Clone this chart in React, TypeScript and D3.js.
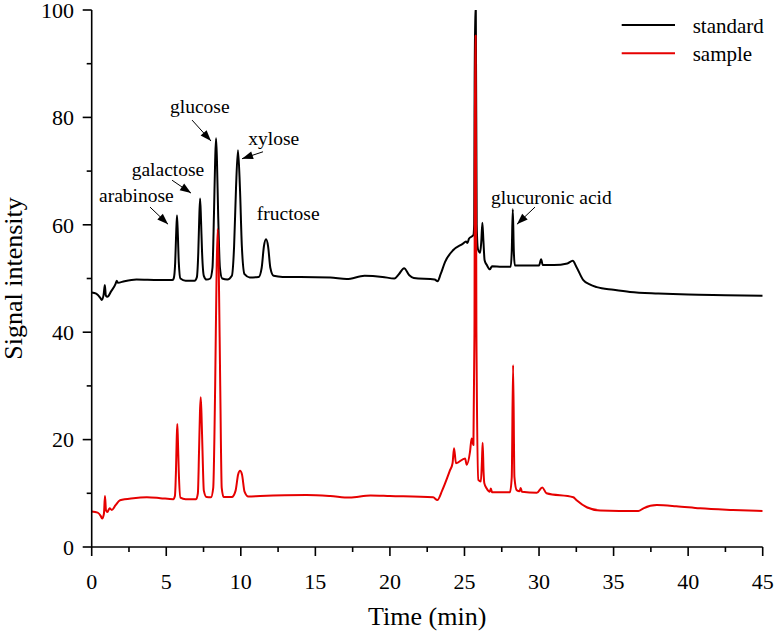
import React from "react";
import * as d3 from "d3";

// ---- data ----
const xTicks = [0, 5, 10, 15, 20, 25, 30, 35, 40, 45];
const yTicks = [0, 20, 40, 60, 80, 100];

const standardSeries: [number, number][] = [
  [0, 47.4], [0.3, 47.2], [0.6, 46.3], [0.67, 46.0], [0.8, 47.0], [0.88, 48.8], [0.95, 46.8], [1.05, 46.6],
  [1.3, 47.6], [1.6, 49.0], [1.68, 49.6], [1.75, 49.2], [2.2, 49.5], [3, 49.8], [4.5, 49.7], [5.4, 49.7],
  [5.5, 50.0], [5.6, 53], [5.66, 58], [5.72, 61.8], [5.78, 58], [5.84, 53], [5.95, 50.0], [6.3, 49.6], [6.9, 49.6],
  [7.05, 50.2], [7.15, 55], [7.21, 61], [7.27, 64.9], [7.33, 61], [7.4, 55], [7.52, 50.5], [7.7, 49.8], [7.95, 50.0],
  [8.1, 52], [8.2, 62], [8.28, 72], [8.34, 76.1], [8.4, 72], [8.48, 62], [8.6, 52], [8.75, 50.0], [9.1, 49.8], [9.4, 50.5],
  [9.55, 56], [9.68, 67], [9.81, 73.9], [9.94, 67], [10.07, 56], [10.25, 50.8], [10.6, 50.2], [11.2, 50.3],
  [11.4, 52], [11.55, 56], [11.69, 57.3], [11.83, 56], [11.98, 52], [12.2, 50.5], [12.8, 50.3], [14, 50.3],
  [16, 50.2], [17.1, 49.9], [18.3, 50.5], [19.5, 50.3], [20.3, 50.0], [20.6, 50.8], [20.95, 51.9], [21.3, 50.6],
  [21.6, 50.1], [23.0, 49.8], [23.2, 49.5], [23.4, 50.8], [23.7, 53.1], [24.25, 55.3], [24.9, 56.5], [25.1, 56.9],
  [25.2, 56.6], [25.3, 57.4], [25.6, 58.1], [25.65, 60], [25.7, 100], [25.76, 100], [25.82, 60], [25.9, 55.5],
  [26.05, 54.8], [26.13, 57], [26.2, 60.4], [26.27, 57], [26.35, 53.4], [26.5, 52.5], [26.7, 51.7], [26.85, 52.3],
  [27.5, 52.2], [28.1, 52.2], [28.17, 55], [28.24, 62.9], [28.31, 55], [28.38, 52.4], [29, 52.4], [30.0, 52.4],
  [30.14, 53.6], [30.25, 52.5], [31, 52.5], [31.9, 52.8], [32.26, 53.3], [32.5, 52.2], [32.97, 49.7], [33.4, 48.9],
  [33.87, 48.4], [35, 47.9], [36.1, 47.5], [38, 47.2], [40, 47.0], [42.5, 46.9], [45, 46.8],
];

const sampleSeries: [number, number][] = [
  [0, 6.6], [0.4, 6.4], [0.6, 5.8], [0.7, 5.3], [0.82, 6.2], [0.89, 9.5], [0.96, 6.8], [1.05, 6.5], [1.2, 7.2],
  [1.35, 6.9], [1.6, 7.8], [1.9, 8.7], [2.8, 9.1], [3.7, 9.25], [4.6, 9.1], [5.47, 8.9],
  [5.58, 9.5], [5.65, 14], [5.7, 20], [5.74, 22.9], [5.78, 20], [5.84, 14], [5.95, 9.2], [6.3, 8.9], [7.0, 8.9],
  [7.12, 10], [7.2, 18], [7.26, 25], [7.31, 27.9], [7.36, 25], [7.43, 18], [7.52, 10.5], [7.7, 9.3], [8.0, 9.25], [8.15, 11],
  [8.28, 30], [8.38, 52], [8.45, 59.2], [8.52, 52], [8.62, 30], [8.72, 11], [8.85, 9.3], [9.4, 9.3], [9.65, 10.5],
  [9.82, 13.5], [9.95, 14.2], [10.08, 13.5], [10.25, 10.3], [10.5, 9.4], [11.3, 9.5], [14.4, 9.7], [16, 9.5],
  [17.3, 9.2], [18.7, 9.6], [20, 9.5], [22.9, 9.25], [23.18, 8.75], [23.5, 10.5], [24.03, 14.3], [24.2, 15.6],
  [24.3, 18.4], [24.43, 15.6], [25.04, 16.5], [25.15, 15.3], [25.37, 17.7], [25.48, 20.2], [25.6, 19.0],
  [25.67, 40], [25.71, 95.2], [25.75, 95.2], [25.8, 40], [25.93, 12.5], [26.1, 12.2], [26.17, 16], [26.22, 19.4],
  [26.28, 14], [26.33, 11.9], [26.49, 10.9], [26.7, 10.3], [26.77, 10.9], [26.85, 10.2], [28.05, 10.2],
  [28.17, 13], [28.26, 33.9], [28.35, 13], [28.5, 10.6], [28.7, 10.4], [28.77, 11.0], [28.85, 10.3],
  [29.85, 10.1], [30.22, 11.1], [30.5, 10.0], [32.3, 9.25], [32.5, 8.75], [33.2, 7.4], [34.1, 6.8],
  [36.66, 6.7], [37.0, 7.2], [37.9, 7.8], [39.2, 7.6], [40.8, 7.2], [43, 6.9], [45, 6.7],
];

const seriesNames = ["standard", "sample"];
const peakLabels = ["arabinose", "galactose", "glucose", "xylose", "fructose", "glucuronic acid"];

// layout of the annotations (data coordinates): text anchor + optional arrow
const labelLayout: { tx: number; ty: number; arrow?: [number, number, number, number] }[] = [
  { tx: 0.49, ty: 64.3, arrow: [3.91, 63.3, 5.12, 60.1] },
  { tx: 2.68, ty: 69.1, arrow: [5.39, 68.3, 6.66, 65.9] },
  { tx: 5.25, ty: 80.8, arrow: [6.73, 79.5, 8.0, 75.6] },
  { tx: 10.5, ty: 74.9, arrow: [11.49, 73.6, 10.08, 72.3] },
  { tx: 11.07, ty: 60.9 },
  { tx: 26.78, ty: 63.9, arrow: [29.73, 63.3, 28.52, 60.1] },
];

const FONT = '"Liberation Serif", "DejaVu Serif", serif';
const RED = "#e60000";

export default function App() {
  const W = 774, H = 632;
  const x = d3.scaleLinear().domain([0, 45]).range([91.7, 762.7]);
  const y = d3.scaleLinear().domain([0, 100]).range([547, 10]);
  const line = d3
    .line<[number, number]>()
    .x((d) => x(d[0]))
    .y((d) => y(d[1]))
    .curve(d3.curveMonotoneX);

  const xMinor = d3.range(0, 45.01, 2.5);
  const yMinor = d3.range(0, 100.01, 10);

  const arrowHead = (x1: number, y1: number, x2: number, y2: number) => {
    const ang = Math.atan2(y2 - y1, x2 - x1);
    const L = 11, Wd = 4;
    const bx = x2 - L * Math.cos(ang), by = y2 - L * Math.sin(ang);
    const px = -Math.sin(ang) * Wd, py = Math.cos(ang) * Wd;
    return `M${x2},${y2}L${bx + px},${by + py}L${bx - px},${by - py}Z`;
  };

  const ts = { fontFamily: FONT } as React.CSSProperties;

  return (
    <svg
      width={W}
      height={H}
      style={{ position: "absolute", left: 0, top: 0, background: "#fff", fontFamily: FONT }}
    >
      <defs>
        <clipPath id="plotclip">
          <rect x={x(0)} y={y(100)} width={x(45) - x(0)} height={y(0) - y(100)} />
        </clipPath>
      </defs>

      {/* series */}
      <g clipPath="url(#plotclip)" fill="none" strokeLinejoin="round">
        <path d={line(standardSeries) || ""} stroke="#000" strokeWidth={2} />
        <path d={line(sampleSeries) || ""} stroke={RED} strokeWidth={2} />
      </g>

      {/* axes */}
      <g stroke="#000" strokeWidth={1.6}>
        <line x1={x(0)} x2={x(45)} y1={y(0)} y2={y(0)} />
        <line x1={x(0)} x2={x(0)} y1={y(0)} y2={y(100)} />
        {xMinor.map((t) => (
          <line key={"xm" + t} x1={x(t)} x2={x(t)} y1={y(0)} y2={y(0) + (t % 5 === 0 ? 9 : 5)} />
        ))}
        {yMinor.map((t) => (
          <line key={"ym" + t} x1={x(0)} x2={x(0) - (t % 20 === 0 ? 9 : 5)} y1={y(t)} y2={y(t)} />
        ))}
      </g>
      <g fontSize={22} fill="#000">
        {xTicks.map((t) => (
          <text key={"xt" + t} x={x(t)} y={588.5} textAnchor="middle" style={ts}>
            {t}
          </text>
        ))}
        {yTicks.map((t) => (
          <text key={"yt" + t} x={74} y={y(t)} dy="0.35em" textAnchor="end" style={ts}>
            {t}
          </text>
        ))}
      </g>
      <text x={(x(0) + x(45)) / 2} y={625} fontSize={26} textAnchor="middle" style={ts}>
        Time (min)
      </text>
      <text transform={`translate(22,${(y(0) + y(100)) / 2}) rotate(-90)`} fontSize={26} textAnchor="middle" style={ts}>
        Signal intensity
      </text>

      {/* annotations */}
      <g fontSize={19.5} fill="#000">
        {peakLabels.map((lab, i) => {
          const L = labelLayout[i];
          return (
            <g key={lab}>
              <text x={x(L.tx)} y={y(L.ty)} style={ts}>
                {lab}
              </text>
              {L.arrow && (
                <g>
                  <line
                    x1={x(L.arrow[0])}
                    y1={y(L.arrow[1])}
                    x2={x(L.arrow[2])}
                    y2={y(L.arrow[3])}
                    stroke="#000"
                    strokeWidth={1}
                  />
                  <path d={arrowHead(x(L.arrow[0]), y(L.arrow[1]), x(L.arrow[2]), y(L.arrow[3]))} fill="#000" />
                </g>
              )}
            </g>
          );
        })}
      </g>

      {/* legend */}
      <g>
        {seriesNames.map((n, i) => (
          <g key={n}>
            <line x1={621.7} x2={675} y1={25 + i * 28.3} y2={25 + i * 28.3} stroke={i === 0 ? "#000" : RED} strokeWidth={2} />
            <text x={692.7} y={33 + i * 28.3} fontSize={21} style={ts}>
              {n}
            </text>
          </g>
        ))}
      </g>
    </svg>
  );
}
